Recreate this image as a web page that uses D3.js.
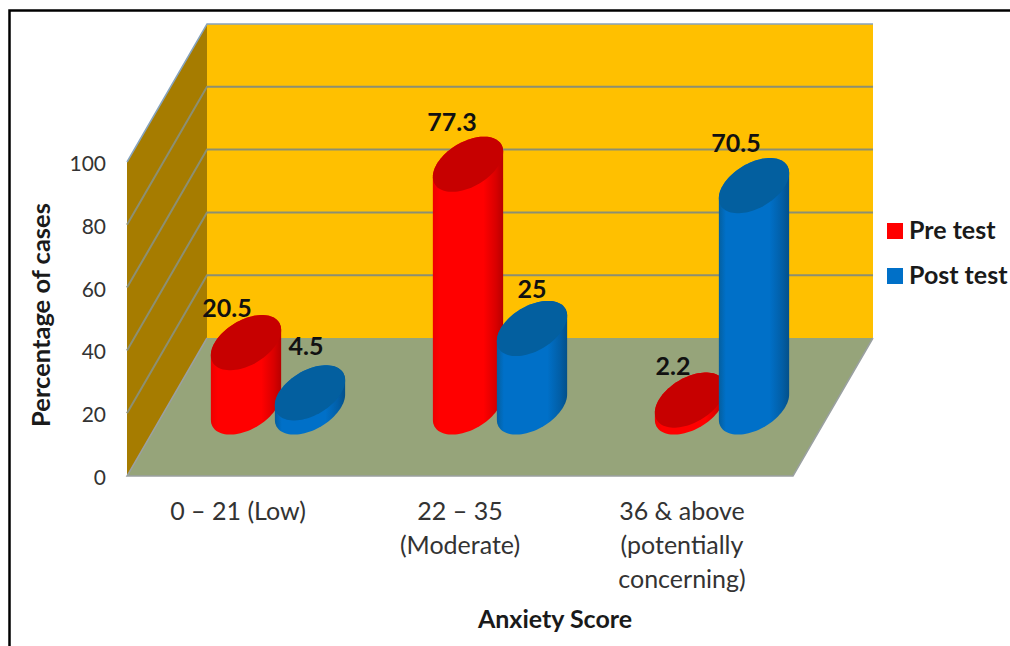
<!DOCTYPE html>
<html>
<head>
<meta charset="utf-8">
<script src="https://cdn.jsdelivr.net/npm/d3@7"></script>
<style>
  html, body { margin: 0; padding: 0; background: #fff; }
  svg { display: block; }
  text { font-family: Lato, "Open Sans", sans-serif; fill: #1a1a1a; }
</style>
</head>
<body>
<svg id="chart" width="1010" height="646"></svg>
<script>
// Anxiety score distribution, pre and post test
const categories = ["0 – 21 (Low)", "22 – 35 (Moderate)", "36 & above (potentially concerning)"];
const categoryLines = [["0 – 21 (Low)"], ["22 – 35", "(Moderate)"], ["36 & above", "(potentially", "concerning)"]];
const seriesNames = ["Pre test", "Post test"];
const preTest = [20.5, 77.3, 2.2];
const postTest = [4.5, 25, 70.5];
const seriesValues = [preTest, postTest];
const yTicks = [0, 20, 40, 60, 80, 100];
const xTitle = "Anxiety Score";
const yTitle = "Percentage of cases";

const palette = {
  "Pre test": { top: "#c70000", mid: "#ff0000", edgeL: "#ee0000", edgeR: "#b80000" },
  "Post test": { top: "#035f9f", mid: "#0070c8", edgeL: "#045f9f", edgeR: "#03508a" }
};

const svg = d3.select("#chart");

// Oblique projection: value on the vertical axis, band along the floor, depth going back
const x = d3.scaleBand().domain(categories).range([127, 793]);
const series = d3.scaleBand().domain(seriesNames).range([-64, 64]);
const y = d3.scaleLinear().domain([0, 100]).range([476, 162]);
const depthX = d3.scaleLinear().domain([0, 1]).range([0, 80]);
const depthY = d3.scaleLinear().domain([0, 1]).range([0, -138]);
const project = (px, value, depth) => [px + depthX(depth), y(value) + depthY(depth)];
const line = d3.line();

// Side wall, back wall and floor
const wallFront = x.range()[0], wallBack = x.range()[1];
svg.append("path")
  .attr("d", line([project(wallFront, 0, 0), project(wallFront, 100, 0), project(wallFront, 100, 1), project(wallFront, 0, 1)]) + "Z")
  .attr("fill", "#a67c00");
svg.append("path")
  .attr("d", line([project(wallFront, 0, 1), project(wallFront, 100, 1), project(wallBack, 100, 1), project(wallBack, 0, 1)]) + "Z")
  .attr("fill", "#ffc000");
svg.append("path")
  .attr("d", line([project(wallFront, 0, 0), project(wallFront, 0, 1), project(wallBack, 0, 1), project(wallBack, 0, 0)]) + "Z")
  .attr("fill", "#96a47a");

// Gridlines wrap from the side wall onto the back wall
svg.append("g").selectAll("path").data(yTicks.filter(t => t > 0 && t < 100)).join("path")
  .attr("d", t => line([project(wallFront, t, 0), project(wallFront, t, 1), project(wallBack, t, 1)]))
  .attr("fill", "none").attr("stroke", "#8c8f72").attr("stroke-width", 2);

// Lit outer edges of the box
svg.append("path")
  .attr("d", line([project(wallFront, 100, 0), project(wallFront, 100, 1), project(wallBack, 100, 1)]))
  .attr("fill", "none").attr("stroke", "#86a3bd").attr("stroke-width", 1.5);
svg.append("path")
  .attr("d", line([project(wallFront, 0, 1), project(wallFront, 0, 0), project(wallBack, 0, 0), project(wallBack, 0, 1)]))
  .attr("fill", "none").attr("stroke", "#9aa0a0").attr("stroke-width", 1.5);

// Horizontal shading across each cylinder
const defs = svg.append("defs");
seriesNames.forEach((name, i) => {
  const c = palette[name];
  const grad = defs.append("linearGradient").attr("id", "shade" + i);
  [[0, c.edgeL], [0.1, c.mid], [0.72, c.mid], [0.9, d3.interpolateRgb(c.mid, c.edgeR)(0.55)], [1, c.edgeR]]
    .forEach(([o, col]) => grad.append("stop").attr("offset", o).attr("stop-color", col));
});

// Cylinder cross-section: a circle on the floor plane, sheared by the projection
const radiusX = 31.3, radiusDepth = 0.2;
const angles = d3.range(0, 360, 4).map(d => d * Math.PI / 180);
function ring(cx, value) {
  return angles.map(t => project(cx + radiusX * Math.cos(t), value, 0.5 + radiusDepth * Math.sin(t)));
}

const bars = seriesNames.flatMap((name, s) => categories.map((cat, c) => ({
  name, s, value: seriesValues[s][c],
  cx: x(cat) + x.bandwidth() / 2 + series(name) + series.bandwidth() / 2
})));

const barGroups = svg.append("g").selectAll("g").data(bars).join("g");
barGroups.append("path")
  .attr("d", d => line(d3.polygonHull(ring(d.cx, 0).concat(ring(d.cx, d.value)))) + "Z")
  .attr("fill", d => `url(#shade${d.s})`);
barGroups.append("path")
  .attr("d", d => line(ring(d.cx, d.value)) + "Z")
  .attr("fill", d => palette[d.name].top);

// Value labels sit above each cylinder's top edge
const labelNudge = { "20.5": [-19, 2], "4.5": [-4, -10], "77.3": [-16, -6], "25": [0, -3], "2.2": [-17, 3], "70.5": [-18, -6] };
svg.append("g").selectAll("text").data(bars).join("text")
  .attr("x", d => project(d.cx, d.value, 0.5)[0] + labelNudge[d.value][0])
  .attr("y", d => project(d.cx, d.value, 0.5 + radiusDepth)[1] + labelNudge[d.value][1])
  .attr("text-anchor", "middle")
  .attr("font-size", 25).attr("font-weight", 700)
  .style("fill", "#111")
  .text(d => d.value);

// Value axis labels
svg.append("g").selectAll("text").data(yTicks).join("text")
  .attr("x", 106).attr("y", t => y(t) + 9)
  .attr("text-anchor", "end").attr("font-size", 21)
  .style("fill", "#333")
  .text(t => t);

// Category labels, broken over lines
svg.append("g").selectAll("text").data(categories).join("text")
  .attr("x", c => x(c) + x.bandwidth() / 2)
  .attr("y", 520)
  .attr("text-anchor", "middle").attr("font-size", 25)
  .style("fill", "#333")
  .each(function (c, i) {
    const node = d3.select(this);
    categoryLines[i].forEach((t, j) => {
      node.append("tspan").attr("x", node.attr("x")).attr("dy", j ? 34 : 0).text(t);
    });
  });

// Axis titles
svg.append("text").attr("x", 555).attr("y", 628)
  .attr("text-anchor", "middle").attr("font-size", 25).attr("font-weight", 700)
  .text(xTitle);
svg.append("text").attr("transform", "translate(50,315) rotate(-90)")
  .attr("text-anchor", "middle").attr("font-size", 25.5).attr("font-weight", 700)
  .text(yTitle);

// Legend
const legend = svg.append("g").selectAll("g").data(seriesNames).join("g")
  .attr("transform", (d, i) => `translate(887,${231 + i * 45})`);
legend.append("rect").attr("x", 0).attr("y", -8).attr("width", 16).attr("height", 16)
  .attr("fill", d => palette[d].mid);
legend.append("text").attr("x", 22).attr("y", 8)
  .attr("font-size", 25).attr("font-weight", 700)
  .text(d => d);

// Page frame
svg.append("path")
  .attr("d", line([[9.5, 646], [9.5, 10.5], [1010, 10.5]]))
  .attr("fill", "none").attr("stroke", "#000").attr("stroke-width", 2.5);
</script>
</body>
</html>
